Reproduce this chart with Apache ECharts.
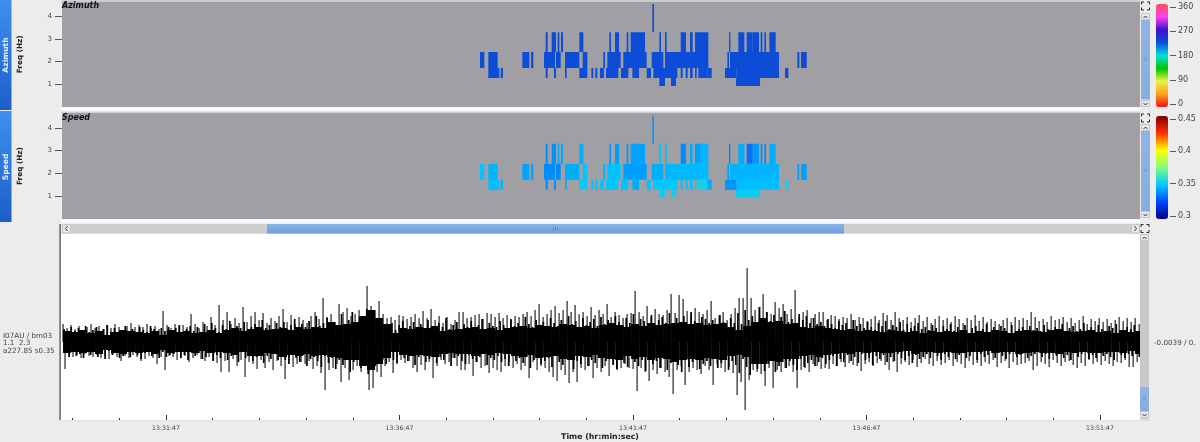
<!DOCTYPE html>
<html><head><meta charset="utf-8">
<style>html,body{margin:0;padding:0;background:#ececeb}#c{width:1200px;height:442px}</style>
<script src="https://cdn.jsdelivr.net/npm/echarts@6/dist/echarts.min.js"></script>
</head><body><div id="c"></div>
<script>
// ---- time axis (seconds after 13:31:47)
const timeLabels = ['13:31:47','13:36:47','13:41:47','13:46:47','13:51:47'];
const majorTicks = [0,300,600,900,1200];
const minorTicks = [-120,-60,60,120,180,240,360,420,480,540,660,720,780,840,960,1020,1080,1140];
const freqTicks = [1,2,3,4];
const azimuthTicks = [0,90,180,270,360];
const speedTicks = [0.3,0.35,0.4,0.45];

// ---- spectrogram: frequency band edges (Hz) and, per band, [startStep,endStep,speed]
const bandEdges = [0.93,1.28,1.72,2.42,3.30,4.54];
const specStartSec = 390.6, specStepSec = 0.4283;
const azimuthDeg = 227.85;
const bandE = [[568,585,.352],[603,618,.353],[798,870,.352]];
const bandD = [[55,88,.348],[92,99,.346],[227,233,.338],[252,258,.34],[285,290,.345],[328,352,.351],[364,370,.349],[376,382,.349],[390,402,.349],[408,445,.35],[453,475,.349],[487,507,.345],[530,543,.349],[550,622,.35],[632,638,.349],[647,653,.349],[660,668,.349],[675,680,.351],[685,712,.354],[712,725,.344],[765,800,.34],[800,927,.348],[945,955,.354]];
const bandC = [[30,43,.349],[55,83,.346],[157,178,.343],[183,190,.343],[222,255,.338],[258,272,.338],[285,328,.345],[338,352,.349],[400,405,.345],[412,452,.349],[460,530,.342],[545,580,.345],[585,715,.347],[772,777,.342],[780,927,.346],[982,988,.343],[993,1010,.342]];
const bandB = [[227,233,.338],[245,258,.339],[263,268,.345],[273,279,.343],[328,340,.345],[418,423,.34],[435,447,.342],[470,475,.34],[482,525,.343],[568,573,.35],[585,590,.348],[632,648,.338],[660,668,.345],[675,690,.342],[690,715,.346],[777,781,.335],[805,823,.345],[830,848,.333],[848,867,.341],[872,877,.338],[883,888,.337],[898,917,.345]];
const bandA = [[547,552,.34]];

// ---- waveform, amplitudes
const waveStartSec = -132.3, waveStepSec = 5.14;
const waveUp = [18,14,17,13,16,12,15,18,14,16, 13,17,14,18,15,12,16,19,15,17, 15,18,14,16,13,31,17,14,18,15,
 17,15,28,18,14,20,16,25,17,37, 22,30,18,24,19,35,20,26,30,22, 29,19,24,21,26,33,20,27,18,25,
 22,19,26,30,23,44,25,28,20,38, 30,34,26,28,32,24,56,36,32,41, 28,24,25,22,27,26,23,25,28,24,
 31,24,33,22,26,19,25,18,22,30, 30,24,25,27,28,23,29,28,25,29, 24,27,22,26,25,28,30,26,32,38,
 25,28,32,36,29,32,41,30,37,28, 30,26,35,27,32,28,38,25,30,27, 24,28,29,51,30,26,36,25,33,28,
 27,32,48,29,47,43,31,26,34,30, 28,32,41,24,27,30,22,28,34,44, 44,74,44,32,35,48,30,28,40,34,
 38,28,33,52,25,30,32,24,28,30, 30,22,27,26,23,25,24,28,22,25, 24,21,23,26,22,29,27,22,30,24,
 22,25,20,24,27,21,25,19,23,26, 22,24,20,26,23,19,24,22,27,21, 25,20,23,21,18,22,24,20,25,22,
 24,22,30,25,21,23,20,26,22,23, 25,20,24,19,22,26,18,23,21,24, 20,23,19,22,25,21,24,20,24,18];
const waveDown = [27,12,15,13,16,12,14,15,13,16, 14,17,12,15,19,14,16,13,15,19, 17,14,16,22,15,28,14,15,18,16,
 14,20,16,13,17,19,15,18,21,30, 19,30,17,24,18,35,20,22,27,18, 26,20,28,19,24,37,18,25,22,20,
 22,19,27,24,31,48,28,26,22,40, 26,38,28,24,30,22,48,46,30,35, 24,20,31,22,18,21,19,26,30,23,
 28,20,36,24,18,22,20,16,24,28, 28,22,34,20,26,24,31,26,28,30, 24,20,26,22,28,24,36,20,28,24,
 26,30,35,39,28,33,41,30,40,26, 28,24,36,26,30,24,34,22,28,26, 22,26,27,49,26,30,39,28,32,26,
 30,35,52,28,24,43,30,26,28,32, 24,28,43,22,26,30,25,31,53,40, 68,38,28,30,32,44,26,46,28,30,
 26,24,30,46,28,26,30,22,24,27, 26,27,22,24,20,25,21,23,24,29, 22,20,24,21,19,23,28,20,30,22,
 20,23,18,25,21,17,22,24,19,23, 21,18,24,20,22,26,19,23,21,24, 20,22,18,25,21,19,26,20,23,22,
 21,19,28,24,20,22,25,18,21,24, 20,19,23,26,21,24,18,22,20,23, 19,22,24,20,21,18,25,25,20,16];
// dense inner teeth of the trace
const teethStartSec = -131, teethStepSec = 4.63;
const teethUp = [13,9,15,11,14,8,16,10,12,15,9,13,17,10,14,8,12,16,11,13,9,15,12,10,16,13,8,14,11,15,
 10,14,17,9,13,16,11,15,8,18,12,19,14,10,17,13,21,11,16,14,20,12,15,18,10,22,14,17,12,19,
 15,20,13,17,23,12,18,15,21,14,26,16,19,24,13,20,17,28,15,22,30,18,24,16,33,20,27,19,23,17,
 15,19,12,17,21,13,16,20,11,18,14,22,16,12,19,15,24,13,17,20,12,18,15,21,14,17,23,13,19,16,
 15,21,17,13,23,16,19,14,25,18,15,22,17,20,14,24,19,16,22,13,26,18,21,15,24,17,20,23,16,25,
 18,22,15,26,20,17,24,19,28,16,23,21,18,27,15,22,25,19,29,17,24,20,26,18,30,21,16,25,23,19,
 22,17,27,20,15,24,19,29,18,32,22,26,20,35,24,30,21,27,18,25,31,20,23,17,28,22,26,19,24,18,
 20,16,23,18,14,21,17,19,13,22,16,18,14,20,15,12,19,16,21,13,17,15,20,12,18,14,16,19,13,15,
 12,17,14,10,16,13,18,11,15,12,17,9,14,16,11,13,18,10,15,12,16,14,9,17,11,13,15,10,16,12,
 14,11,17,13,9,15,12,18,10,14,16,11,13,19,12,15,10,17,13,11,16,14,18,10,12,15,13,17,11,14];
const teethDown = [11,15,9,14,12,16,10,13,8,15,12,17,9,13,11,16,14,8,15,10,13,17,11,9,14,12,16,10,15,13,
 12,9,16,13,18,10,14,11,17,15,9,19,13,16,11,18,14,12,20,10,16,13,19,15,11,21,14,17,12,18,
 14,18,22,12,16,20,13,24,17,15,19,25,14,21,16,27,18,23,15,30,20,17,26,19,32,16,24,21,18,22,
 14,18,21,12,16,19,13,23,15,11,20,17,13,21,15,18,12,24,16,14,19,22,13,17,20,15,12,23,16,18,
 14,20,17,24,13,19,16,21,15,26,18,14,22,19,16,25,13,20,23,17,15,27,19,22,14,24,18,21,16,26,
 19,15,23,27,17,21,25,14,20,24,18,29,16,22,19,26,15,28,21,17,23,30,18,25,20,16,27,22,19,24,
 17,26,21,15,28,19,23,31,17,25,33,20,27,18,29,22,16,30,24,20,26,19,23,28,17,25,21,18,24,20,
 16,22,18,14,24,17,20,13,19,15,21,12,18,16,23,14,17,13,20,15,19,12,16,18,14,21,13,17,15,12,
 16,11,14,18,12,15,9,17,13,11,16,14,10,18,12,15,13,9,16,11,14,17,12,10,15,13,11,16,14,12,
 10,15,12,17,11,14,9,16,13,18,11,15,12,10,17,13,16,11,14,12,15,18,10,13,16,12,14,11,15,10];
const coreStepSec = 10.28;
const coreUp = [11,10,12,9,11,7,10,12,11,10, 9,11,7,12,10,11,9,10,12,9, 12,14,11,13,15,12,13,14,12,15,
 13,15,14,20,17,18,20,26,32,24, 18,9,14,13,15,14,16,11,12,13, 14,15,13,14,12,14,15,16,14,17,
 16,15,18,17,15,16,14,17,19,17, 15,18,16,19,17,18,19,20,18,19, 17,18,19,15,12,16,20,24,20,21,
 18,19,15,14,16,14,13,12,13,11, 12,11,10,12,11,10,11,9,11,10, 11,10,12,9,11,10,12,11,9,11,
 12,11,10,12,13,11,10,11,12,10, 11,9,12,10,11];
const coreDown = [11,10,11,10,12,8,11,12,10,11, 10,12,8,11,10,10,11,9,11,10, 11,13,10,14,14,11,12,15,13,14,
 12,14,13,15,16,18,18,24,28,22, 16,10,13,14,13,14,15,12,11,12, 12,14,12,13,11,12,14,15,13,16,
 15,14,17,18,14,15,13,16,17,18, 14,17,15,18,16,17,20,18,17,18, 16,17,18,14,13,15,22,22,19,20,
 17,17,14,13,15,13,12,11,12,10, 11,10,11,11,10,9,12,10,10,11, 10,11,11,10,10,9,11,10,10,12,
 11,10,11,11,12,10,11,10,11,11, 10,10,11,9,12];

// ---- build
const font = 'DejaVu Sans';
const bands = [bandA,bandB,bandC,bandD,bandE];
const bandLows = [bandEdges[4],bandEdges[3],bandEdges[2],bandEdges[1],bandEdges[0]];
const bandHighs = [bandEdges[5],bandEdges[4],bandEdges[3],bandEdges[2],bandEdges[1]];
const azRows = [], spRows = [];
bands.forEach((b,k)=>b.forEach(r=>{
  const t0 = specStartSec + r[0]*specStepSec, t1 = specStartSec + r[1]*specStepSec;
  azRows.push([t0,t1,bandLows[k],bandHighs[k],azimuthDeg]);
  spRows.push([t0,t1,bandLows[k],bandHighs[k],r[2]]);
}));
function blockItem(params, api){
  const a = api.coord([api.value(0),api.value(3)]), b = api.coord([api.value(1),api.value(2)]);
  return {type:'rect',shape:{x:a[0],y:a[1],width:b[0]-a[0],height:b[1]-a[1]},style:{fill:api.visual('color')}};
}
const spikes = [];
waveUp.forEach((v,i)=>spikes.push([waveStartSec+i*waveStepSec,0,v]));
waveDown.forEach((v,i)=>spikes.push([waveStartSec+(i+.5)*waveStepSec,-v,0]));
const teeth = [];
teethUp.forEach((v,i)=>teeth.push([teethStartSec+i*teethStepSec,0,v]));
teethDown.forEach((v,i)=>teeth.push([teethStartSec+(i+.4)*teethStepSec,-v,0]));
function lineItem(stroke,width){return function(params, api){
  const a = api.coord([api.value(0),api.value(2)]), b = api.coord([api.value(0),api.value(1)]);
  return {type:'line',shape:{x1:a[0],y1:a[1],x2:b[0],y2:b[1]},style:{stroke:stroke,lineWidth:width}};
};}
const core = coreUp.map((v,i)=>[waveStartSec+i*coreStepSec,coreDown[i],v]);
function coreItem(params, api){
  const a = api.coord([api.value(0),api.value(2)]), b = api.coord([api.value(0)+coreStepSec,-api.value(1)]);
  return {type:'rect',shape:{x:a[0],y:a[1],width:b[0]-a[0],height:b[1]-a[1]},style:{fill:'#000'}};
}
const T0 = -136.2, T1 = 1251.4;
const tick = {show:true,length:7,lineStyle:{color:'#555',width:1}};
function freqAxis(g){return {gridIndex:g,type:'value',position:'left',min:0,max:4.65,name:'Freq (Hz)',nameLocation:'middle',nameGap:38,nameRotate:90,
  nameTextStyle:{fontFamily:font,fontWeight:'bold',fontSize:7.3,color:'#222'},
  axisLine:{show:false,onZero:false},splitLine:{show:false},
  axisTick:Object.assign({customValues:freqTicks},tick),
  axisLabel:{customValues:freqTicks,fontFamily:font,fontSize:7,color:'#444',margin:10}};}
function hiddenX(g,min){return {gridIndex:g,type:'value',min:min,max:T1,show:false,splitLine:{show:false}};}
function barAxis(g,min,max,ticks,fmt){return {gridIndex:g,type:'value',position:'right',min:min,max:max,offset:2,
  axisLine:{show:false,onZero:false},splitLine:{show:false},
  axisTick:Object.assign({customValues:ticks},tick,{length:6}),
  axisLabel:{customValues:ticks,formatter:fmt,fontFamily:font,fontSize:8,color:'#444',margin:8}};}

// window furniture
const g = [];
const rect=(x,y,w,h,fill)=>g.push({type:'rect',silent:true,z:1,shape:{x,y,width:w,height:h},style:{fill}});
const grad=(a,b)=>({type:'linear',x:0,y:0,x2:0,y2:1,colorStops:[{offset:0,color:a},{offset:1,color:b}]});
const txt=(x,y,text,o)=>g.push({type:'text',silent:true,z:20,x,y,style:Object.assign({text,fill:'#444',fontFamily:font,fontSize:8,align:'left',verticalAlign:'middle'},o||{})});
rect(0,0,11.5,110,grad('#3f8fee','#1c5ec9'));
rect(0,111,11.5,111,grad('#3f8fee','#1c5ec9'));
g.push({type:'text',silent:true,z:20,x:6,y:55,rotation:Math.PI/2,style:{text:'Azimuth',fill:'#e8f2ff',fontFamily:font,fontWeight:'bold',fontSize:7.6,align:'center',verticalAlign:'middle'}});
g.push({type:'text',silent:true,z:20,x:6,y:167,rotation:Math.PI/2,style:{text:'Speed',fill:'#e8f2ff',fontFamily:font,fontWeight:'bold',fontSize:7.6,align:'center',verticalAlign:'middle'}});
rect(61,0,1079,1.5,'#cfcfcf'); rect(61,107.5,1079,4,'#fbfbfa'); rect(61,111.5,1079,1.5,'#cfcfcf'); rect(61,219.5,1079,3,'#fbfbfa');
txt(62,6,'Azimuth',{fontWeight:'bold',fontStyle:'italic',fill:'#111'});
txt(62,118,'Speed',{fontWeight:'bold',fontStyle:'italic',fill:'#111'});
txt(3,336,'I07AU / bm03',{fontSize:7.2}); txt(3,343.5,'1.1  2.3',{fontSize:7.2}); txt(3,351,'a227.85 s0.35',{fontSize:7.2});
txt(1154,343,'-0.0039 / 0.',{fontSize:7.2});
// scrollbars
function arrowBtn(x,y,w,h){rect(x,y,w,h,'#e9e9e9');g.push({type:'rect',silent:true,z:2,shape:{x:x+.5,y:y+.5,width:w-1,height:h-1},style:{fill:'none',stroke:'#b5b5b5',lineWidth:.7}});}
function chev(x,y,pts){g.push({type:'polyline',silent:true,z:3,shape:{points:pts.map(p=>[x+p[0],y+p[1]])},style:{fill:'none',stroke:'#333',lineWidth:1}});}
function fullIcon(x,y){const s=8,k=2.5;[[0,0,1,1],[s,0,-1,1],[0,s,1,-1],[s,s,-1,-1]].forEach(c=>{
  g.push({type:'polyline',silent:true,z:3,shape:{points:[[x+c[0]+c[2]*k,y+c[1]],[x+c[0],y+c[1]],[x+c[0],y+c[1]+c[3]*k]]},style:{fill:'none',stroke:'#222',lineWidth:1}});});}
function vbar(x,top,bottom,thumbTop,thumbBot){
  rect(x,top,9,bottom-top,'#c9c9c9'); rect(x,thumbTop,9,thumbBot-thumbTop,grad('#8fb4e4','#86addf'));
  arrowBtn(x,top,9,7); chev(x+2.5,top+2,[[0,3],[2,1],[4,3]]);
  arrowBtn(x,bottom-7,9,7); chev(x+2.5,bottom-5,[[0,1],[2,3],[4,1]]);
  rect(x+3,(thumbTop+thumbBot)/2-2,3,.8,'#6f93c4'); rect(x+3,(thumbTop+thumbBot)/2,3,.8,'#6f93c4');
}
fullIcon(1141.5,2); vbar(1141,13,107,20,99);
fullIcon(1141.5,114); vbar(1141,124,218,131,211);
fullIcon(1141,224.5); vbar(1140,234,418,387,411);
rect(1140,418,9.5,2,'#d8d8d8');
// horizontal bar
rect(62,224,1078,9.5,'#cfcfcf'); rect(267,224,577,9.5,grad('#8cb3e6','#6f9fdc'));
arrowBtn(62,224,9,9.5); chev(64.5,226,[[3,0],[1,2.5],[3,5]]);
arrowBtn(1131,224,9,9.5); chev(1133.5,226,[[1,0],[3,2.5],[1,5]]);
rect(553,227,.8,3.5,'#5f86bd'); rect(555,227,.8,3.5,'#5f86bd'); rect(557,227,.8,3.5,'#5f86bd');
// left edge of the trace panel
rect(59.3,224,1.6,196,'#6d6d6d');
rect(60,420,1090,1,'#e2e2e2');

const option = {
  animation:false, backgroundColor:'#ececeb', textStyle:{fontFamily:font},
  graphic:{elements:g},
  grid:[
    {left:62,top:1.5,width:1078,height:105.5,show:true,backgroundColor:'#a0a0a4',borderWidth:0},
    {left:62,top:113,width:1078,height:106,show:true,backgroundColor:'#a0a0a4',borderWidth:0},
    {left:60,top:234,width:1080,height:186,show:true,backgroundColor:'#ffffff',borderWidth:0},
    {left:1156,top:7,width:12,height:97},
    {left:1156,top:119,width:12,height:97}
  ],
  xAxis:[
    hiddenX(0,-133.6), hiddenX(1,-133.6),
    {gridIndex:2,type:'value',min:T0,max:T1,position:'bottom',name:'Time (hr:min:sec)',nameLocation:'middle',nameGap:13,
     nameTextStyle:{fontFamily:font,fontWeight:'bold',fontSize:7.8,color:'#222'},
     axisLine:{show:false,onZero:false},splitLine:{show:false},
     axisTick:{show:true,inside:true,length:5,customValues:majorTicks,lineStyle:{color:'#333',width:1}},
     axisLabel:{customValues:majorTicks,formatter:v=>timeLabels[majorTicks.indexOf(v)],fontFamily:font,fontSize:6.2,color:'#444',margin:5}},
    {gridIndex:2,type:'value',min:T0,max:T1,position:'bottom',
     axisLine:{show:false,onZero:false},splitLine:{show:false},axisLabel:{show:false},
     axisTick:{show:true,inside:true,length:2,customValues:minorTicks,lineStyle:{color:'#333',width:1}}},
    {gridIndex:3,type:'value',min:0,max:1,show:false},
    {gridIndex:4,type:'value',min:0,max:1,show:false}
  ],
  yAxis:[
    freqAxis(0), freqAxis(1),
    {gridIndex:2,type:'value',min:-78,max:108,show:false,splitLine:{show:false}},
    barAxis(3,0,360,azimuthTicks,v=>String(v)),
    barAxis(4,0.3,0.45,speedTicks,v=>String(+v.toFixed(2)))
  ],
  visualMap:[
    {type:'continuous',seriesIndex:0,dimension:4,min:0,max:360,left:1141,top:-11,itemWidth:12,itemHeight:103,calculable:false,realtime:false,hoverLink:false,text:null,showLabel:false,
     inRange:{color:['#ee1414','#ffa020','#eef048','#00c400','#00dede','#0a50d8','#3a10cc','#ff40f0','#ff5058']}},
    {type:'continuous',seriesIndex:1,dimension:4,min:0.3,max:0.45,left:1141,top:101,itemWidth:12,itemHeight:103,calculable:false,realtime:false,hoverLink:false,text:null,showLabel:false,
     inRange:{color:['#00008c','#0048ff','#00c8ff','#80ff80','#ffff00','#ff3000','#800000']}}
  ],
  series:[
    {type:'custom',xAxisIndex:0,yAxisIndex:0,data:azRows,renderItem:blockItem,silent:true,clip:true,encode:{x:0,y:2}},
    {type:'custom',xAxisIndex:1,yAxisIndex:1,data:spRows,renderItem:blockItem,silent:true,clip:true,encode:{x:0,y:2}},
    {type:'custom',xAxisIndex:2,yAxisIndex:2,data:spikes,renderItem:lineItem('#444',1.4),silent:true,clip:true,encode:{x:0,y:1}},
    {type:'custom',xAxisIndex:2,yAxisIndex:2,data:teeth,renderItem:lineItem('#000',1.7),silent:true,clip:true,encode:{x:0,y:1}},
    {type:'custom',xAxisIndex:2,yAxisIndex:2,data:core,renderItem:coreItem,silent:true,clip:true,encode:{x:0,y:2}}
  ]
};
echarts.init(document.getElementById('c'),null,{renderer:'canvas'}).setOption(option);
</script></body></html>
